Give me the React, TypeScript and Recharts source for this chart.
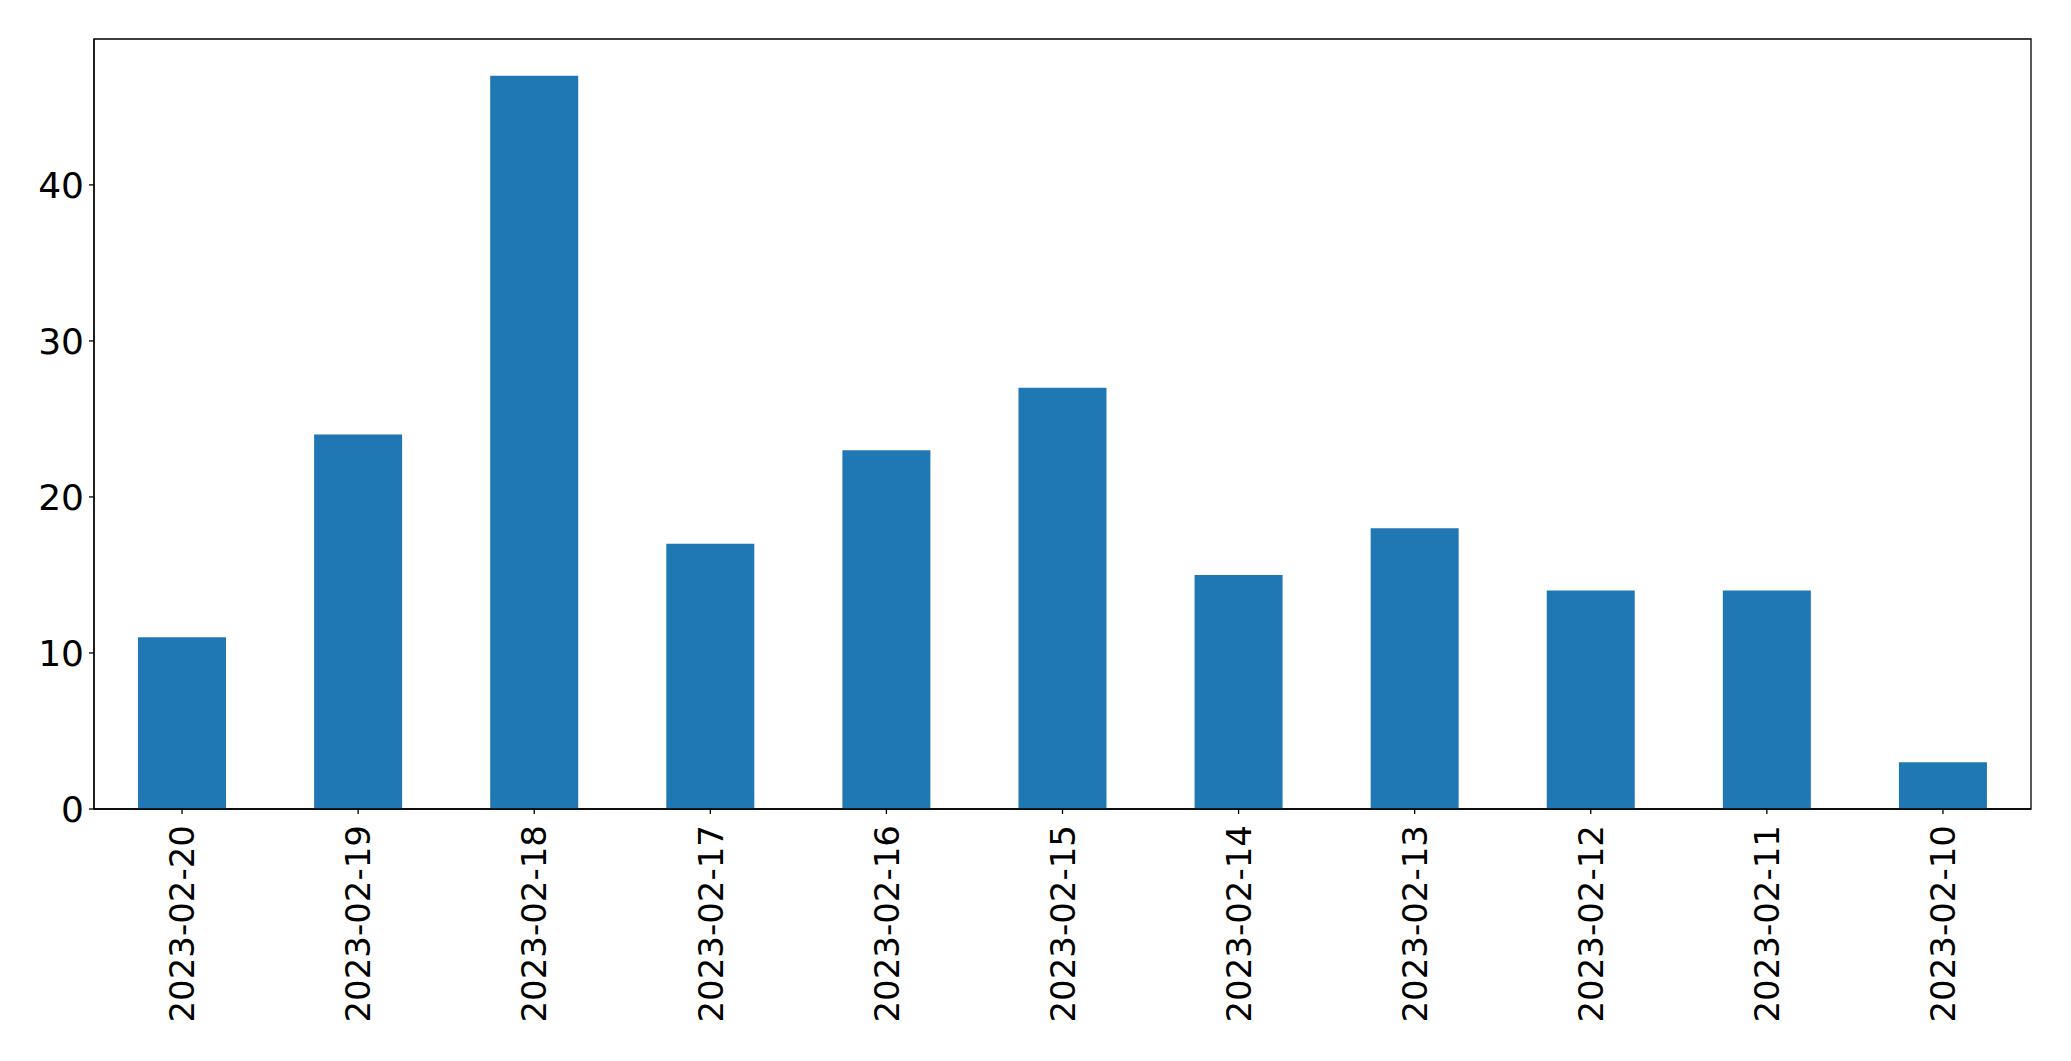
import { Bar, BarChart, ReferenceArea, XAxis, YAxis } from "recharts";

const dates = [
  "2023-02-20",
  "2023-02-19",
  "2023-02-18",
  "2023-02-17",
  "2023-02-16",
  "2023-02-15",
  "2023-02-14",
  "2023-02-13",
  "2023-02-12",
  "2023-02-11",
  "2023-02-10",
];
const counts = [11, 24, 47, 17, 23, 27, 15, 18, 14, 14, 3];
const yTicks = [0, 10, 20, 30, 40];
const yMax = 49.35;

const data = dates.map((d, i) => ({ date: d, count: counts[i] }));

const FONT = "'DejaVu Sans', sans-serif";

function DateTick(props: any) {
  const { x, y, payload } = props;
  return (
    <text
      x={0}
      y={0}
      transform={`translate(${x},${y + 9}) rotate(-90)`}
      textAnchor="end"
      dy="0.36em"
      fontSize={34}
      fontFamily={FONT}
      fill="#000"
    >
      {payload.value}
    </text>
  );
}

export default function App() {
  return (
    <div style={{ position: "absolute", left: 0, top: 0, width: 2071, height: 1061, background: "#fff" }}>
      <BarChart
        width={2071}
        height={1061}
        data={data}
        margin={{ top: 39, right: 40, left: 0, bottom: 0 }}
        barCategoryGap="25%"
      >
        <XAxis
          dataKey="date"
          height={252}
          interval={0}
          tick={<DateTick />}
          tickSize={5}
          stroke="#000"
          axisLine={{ stroke: "#000", strokeWidth: 1.3 }}
          tickLine={{ stroke: "#000", strokeWidth: 1.3 }}
        />
        <YAxis
          width={94}
          domain={[0, yMax]}
          ticks={yTicks}
          tickSize={5}
          tickMargin={5}
          allowDataOverflow
          tick={{ fontSize: 36, fontFamily: FONT, fill: "#000" }}
          axisLine={{ stroke: "#000", strokeWidth: 1.3 }}
          tickLine={{ stroke: "#000", strokeWidth: 1.3 }}
        />
        <Bar dataKey="count" fill="#1f77b4" isAnimationActive={false} />
        <ReferenceArea
          x1={dates[0]}
          x2={dates[dates.length - 1]}
          y1={0}
          y2={yMax}
          fill="none"
          fillOpacity={0}
          stroke="#000"
          strokeWidth={1.3}
          ifOverflow="visible"
        />
      </BarChart>
    </div>
  );
}
